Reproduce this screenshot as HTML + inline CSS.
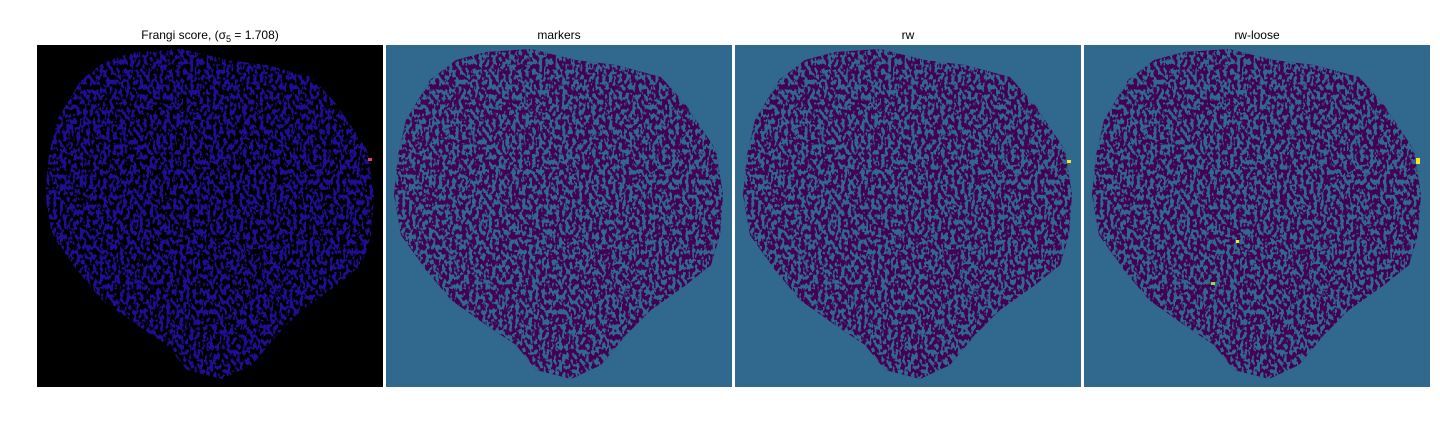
<!DOCTYPE html>
<html><head><meta charset="utf-8"><style>
body{margin:0;background:#fff;width:1440px;height:432px;overflow:hidden;font-family:"Liberation Sans",sans-serif}
</style></head><body>
<svg width="1440" height="432">
<defs>
<path id="blob" d="M44,35 L70,15 L100,7 L145,4 L190,15 L230,20 L275,32 L300,60 L330,105 L337,150 L334,190 L325,220 L300,240 L265,265 L240,290 L215,320 L185,334 L150,325 L130,300 L100,280 L65,255 L40,225 L15,190 L8,150 L12,110 L20,75 Z"/>
<clipPath id="clip"><use href="#blob"/></clipPath>
<filter id="noiseTeal" x="0" y="0" width="100%" height="100%" color-interpolation-filters="sRGB">
<feTurbulence type="fractalNoise" baseFrequency="0.3 0.2" numOctaves="2" seed="3"/>
<feColorMatrix type="matrix" values="0 0 0 0 0.19  0 0 0 0 0.41  0 0 0 0 0.56  22 0 0 0 -10.8"/>
</filter>
<filter id="noiseBlue" x="0" y="0" width="100%" height="100%" color-interpolation-filters="sRGB">
<feTurbulence type="fractalNoise" baseFrequency="0.3 0.2" numOctaves="2" seed="3"/>
<feColorMatrix type="matrix" values="0 0 0 0 0.13  0 0 0 0 0.05  0 0 0 0 0.58  22 0 0 0 -10.8"/>
</filter>
</defs>
<g transform="translate(37,45)">
<rect width="346" height="342" fill="#000"/>
<g clip-path="url(#clip)"><rect width="346" height="342" filter="url(#noiseBlue)"/></g>
<rect x="331" y="113" width="4" height="3" fill="#e04070"/>
</g>
<g transform="translate(386,45)">
<rect width="346" height="342" fill="#31688e"/>
<use href="#blob" fill="#440154"/>
<g clip-path="url(#clip)"><rect width="346" height="342" filter="url(#noiseTeal)"/></g>
</g>
<g transform="translate(735,45)">
<rect width="346" height="342" fill="#31688e"/>
<use href="#blob" fill="#440154"/>
<g clip-path="url(#clip)"><rect width="346" height="342" filter="url(#noiseTeal)"/></g>
<rect x="332" y="115" width="4" height="3" fill="#fde725"/>
</g>
<g transform="translate(1084,45)">
<rect width="346" height="342" fill="#31688e"/>
<use href="#blob" fill="#440154"/>
<g clip-path="url(#clip)"><rect width="346" height="342" filter="url(#noiseTeal)"/></g>
<rect x="332" y="113" width="4" height="6" fill="#fde725"/>
<rect x="152" y="195" width="3" height="3" fill="#fde725"/>
<rect x="127" y="237" width="4" height="3" fill="#a0da39"/>
</g>
<g font-size="12" fill="#000" text-anchor="middle">
<text x="210" y="39">Frangi score, (σ<tspan font-size="9" dy="3">5</tspan><tspan dy="-3"> = 1.708)</tspan></text>
<text x="559" y="39">markers</text>
<text x="908" y="39">rw</text>
<text x="1257" y="39">rw-loose</text>
</g>
</svg>
</body></html>
